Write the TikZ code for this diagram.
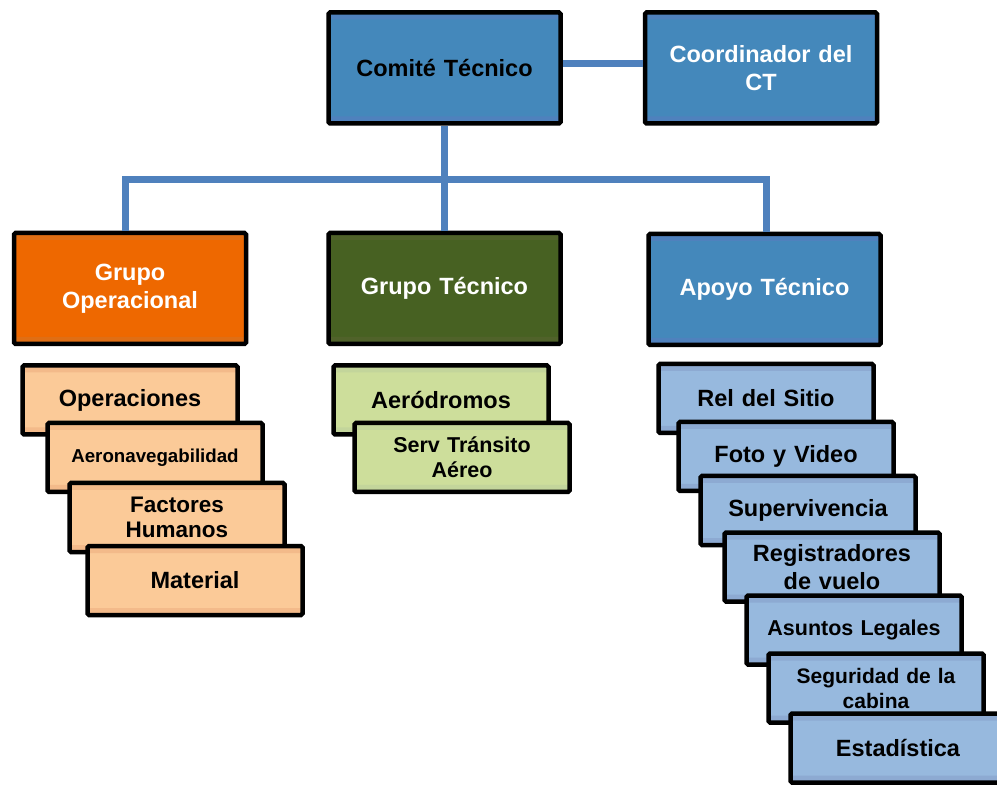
\documentclass[tikz,border=0pt]{standalone}
\usepackage{fontspec}
\setmainfont{Liberation Sans}
\usetikzlibrary{positioning}

\definecolor{linkblue}{RGB}{79,129,189}
\definecolor{headblue}{RGB}{68,136,187}
\definecolor{headblueband}{RGB}{79,129,189}
\definecolor{opsorange}{RGB}{238,104,0}
\definecolor{opsorangeband}{RGB}{224,110,20}
\definecolor{tecgreen}{RGB}{71,97,34}
\definecolor{tecgreenband}{RGB}{80,98,42}
\definecolor{suborange}{RGB}{251,202,152}
\definecolor{suborangeband}{RGB}{243,186,138}
\definecolor{subgreen}{RGB}{205,222,155}
\definecolor{subgreenband}{RGB}{195,213,155}
\definecolor{subblue}{RGB}{151,185,222}
\definecolor{subblueband}{RGB}{141,170,210}

\tikzset{
  box/.style={draw=black, line width=4.5pt, rounded corners=1.5pt, align=center,
    font=\bfseries\fontsize{23.5}{28}\selectfont},
  band/.style={path picture={
    \fill[#1] (path picture bounding box.north west) rectangle ([yshift=-7pt]path picture bounding box.north east);
    \fill[#1] (path picture bounding box.south west) rectangle ([yshift=7pt]path picture bounding box.south east);}},
  headbox/.style={box, minimum width=232pt, minimum height=111pt, text width=215pt},
  subbox/.style={box, minimum width=215pt, minimum height=69pt, text width=205pt},
  link/.style={draw=linkblue, line width=7pt}
}

\begin{document}
\begin{tikzpicture}[x=1pt,y=-1pt]
\useasboundingbox (0,0) rectangle (997,786);
\clip (0,0) rectangle (997,786);

% top level
\node (cte) [headbox, fill=headblue, band=headblueband] at (444.5,68) {Comité Técnico};
\node (coord) [headbox, fill=headblue, band=headblueband, text=white] at (761,68) {Coordinador del\\CT};

% groups
\node (gop) [headbox, fill=opsorange, band=opsorangeband, text=white] at (130,288.5) {Grupo\\Operacional};
\node (gte) [headbox, fill=tecgreen, band=tecgreenband, text=white] at (444.5,288.5) {Grupo Técnico};
\node (apo) [headbox, fill=headblue, band=headblueband, text=white] at (764.5,289.5) {Apoyo Técnico};

% operational group
\node (ops) [subbox, fill=suborange, band=suborangeband] at (130,400) {Operaciones};
\node (aer) [subbox, fill=suborange, band=suborangeband, font=\bfseries\fontsize{18.7}{22}\selectfont] at (155,457.5) {Aeronavegabilidad};
\node (fac) [subbox, fill=suborange, band=suborangeband, font=\bfseries\fontsize{22.5}{25}\selectfont] at (177,517.5) {Factores\\Humanos};
\node (mat) [subbox, fill=suborange, band=suborangeband] at (195,580.5) {Material};

% technical group
\node (aed) [subbox, fill=subgreen, band=subgreenband] at (441,400) {Aeródromos};
\node (sta) [subbox, fill=subgreen, band=subgreenband, font=\bfseries\fontsize{21.5}{25}\selectfont] at (462,457.5) {Serv Tránsito\\Aéreo};

% technical support
\node (rel) [subbox, fill=subblue, band=subblueband] at (766,398.5) {Rel del Sitio};
\node (fot) [subbox, fill=subblue, band=subblueband] at (786,456.5) {Foto y Video};
\node (sup) [subbox, fill=subblue, band=subblueband] at (808,510.5) {Supervivencia};
\node (reg) [subbox, fill=subblue, band=subblueband] at (832,567) {Registradores\\de vuelo};
\node (asu) [subbox, fill=subblue, band=subblueband, font=\bfseries\fontsize{21.5}{25}\selectfont] at (854,630) {Asuntos Legales};
\node (seg) [subbox, fill=subblue, band=subblueband, font=\bfseries\fontsize{21}{25}\selectfont] at (876,688) {Seguridad de la\\cabina};
\node (est) [subbox, fill=subblue, band=subblueband] at (898,748) {Estadística};

% connectors
\coordinate (bus) at (444.5,180);
\draw[link] ([yshift=4pt]cte.east) -- ([yshift=4pt]coord.west);
\draw[link] (cte.south) -- (gte.north);
\draw[link] ([xshift=-5pt]gop.north) -- ([xshift=-5pt]gop.north |- bus) -- ([xshift=2pt]apo.north |- bus) -- ([xshift=2pt]apo.north);
\end{tikzpicture}
\end{document}
